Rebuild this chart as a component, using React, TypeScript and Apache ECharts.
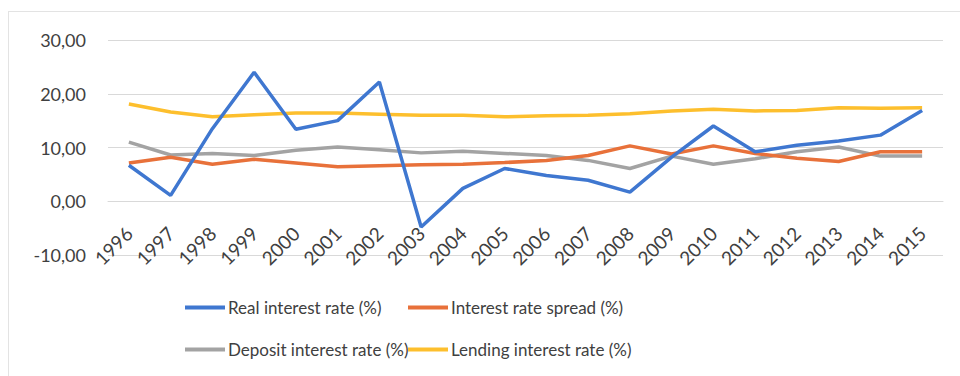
import React, { useEffect, useRef } from "react";
import * as echarts from "echarts";

const years = ["1996","1997","1998","1999","2000","2001","2002","2003","2004","2005","2006","2007","2008","2009","2010","2011","2012","2013","2014","2015"];
const realRate = [6.7, 1.1, 13.5, 24.0, 13.4, 15.0, 22.2, -4.8, 2.4, 6.1, 4.8, 3.9, 1.7, 8.2, 14.0, 9.2, 10.4, 11.2, 12.3, 16.9];
const spread = [7.1, 8.2, 6.9, 7.8, 7.1, 6.4, 6.6, 6.8, 6.9, 7.2, 7.6, 8.5, 10.3, 8.8, 10.3, 8.9, 8.0, 7.4, 9.2, 9.2];
const depositRate = [11.0, 8.6, 8.9, 8.5, 9.5, 10.1, 9.6, 9.0, 9.3, 8.9, 8.5, 7.6, 6.1, 8.4, 6.9, 7.9, 9.2, 10.1, 8.4, 8.4];
const lendingRate = [18.1, 16.6, 15.7, 16.1, 16.4, 16.4, 16.2, 16.0, 16.0, 15.7, 15.9, 16.0, 16.3, 16.8, 17.1, 16.8, 16.9, 17.4, 17.3, 17.4];

const names = ["Real interest rate (%)", "Interest rate spread (%)", "Deposit interest rate (%)", "Lending interest rate (%)"];
const colors = ["#3F77D0", "#E8713A", "#A3A3A3", "#FDBF2D"];
const seriesData = [realRate, spread, depositRate, lendingRate];

const FONT = "Lato";

export default function App() {
  const ref = useRef<HTMLDivElement>(null);
  useEffect(() => {
    if (!ref.current) return;
    const chart = echarts.init(ref.current, null, { renderer: "svg" });
    const legendPos = [
      { left: 180, top: 294 },
      { left: 403, top: 294 },
      { left: 180, top: 336 },
      { left: 403, top: 336 },
    ];
    chart.setOption({
      animation: false,
      backgroundColor: "#ffffff",
      textStyle: { fontFamily: FONT },
      grid: { left: 108, right: 17, top: 40, bottom: 121, containLabel: false },
      xAxis: {
        type: "category",
        data: years,
        boundaryGap: true,
        offset: -54,
        axisLine: { onZero: false, lineStyle: { color: "#D9D9D9", width: 1 } },
        axisTick: { show: false },
        axisLabel: { rotate: 45, margin: 29, fontSize: 19, color: "#404040", fontFamily: FONT, interval: 0 },
      },
      yAxis: {
        type: "value",
        min: -10,
        max: 30,
        interval: 10,
        axisLine: { show: false },
        axisTick: { show: false },
        splitLine: { lineStyle: { color: "#D9D9D9", width: 1 } },
        axisLabel: {
          fontSize: 18,
          color: "#404040",
          fontFamily: FONT,
          margin: 22,
          formatter: (v: number) => v.toFixed(2).replace(".", ","),
        },
      },
      legend: names.map((n, i) => ({
        data: [n],
        left: legendPos[i].left,
        top: legendPos[i].top,
        icon: "rect",
        itemWidth: 40,
        itemHeight: 4,
        textStyle: { fontSize: 17, color: "#404040", fontFamily: FONT, padding: [0, 0, 0, -2] },
      })),
      series: names.map((n, i) => ({
        name: n,
        type: "line",
        data: seriesData[i],
        symbol: "none",
        z: i === 0 ? 10 : 5 - i,
        lineStyle: { color: colors[i], width: 3.5 },
        itemStyle: { color: colors[i] },
      })),
      graphic: [
        { type: "line", shape: { x1: 8, y1: 11.5, x2: 960, y2: 11.5 }, style: { stroke: "#E3E3E3", lineWidth: 1 } },
        { type: "line", shape: { x1: 8.5, y1: 11, x2: 8.5, y2: 376 }, style: { stroke: "#E3E3E3", lineWidth: 1 } },
      ],
    });
    return () => chart.dispose();
  }, []);
  return <div ref={ref} style={{ width: 960, height: 376, position: "absolute", left: 0, top: 0 }} />;
}
